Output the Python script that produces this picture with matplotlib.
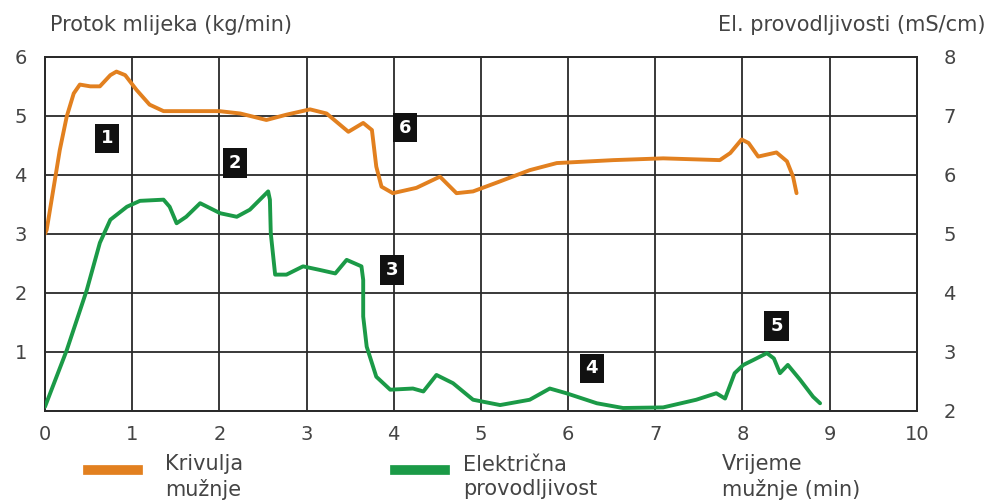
import matplotlib.pyplot as plt

# Krivulja mužnje (kg/min), lijeva os
t_protok = [0.0, 0.02, 0.17, 0.25, 0.33, 0.40, 0.52, 0.63, 0.75, 0.82, 0.92, 1.05, 1.20, 1.36,
            2.00, 2.24, 2.54, 2.77, 3.04, 3.23, 3.48, 3.65, 3.75, 3.80, 3.86, 3.99, 4.26, 4.53,
            4.72, 4.91, 5.22, 5.56, 5.87, 6.52, 7.09, 7.74, 7.86, 7.99, 8.07, 8.18, 8.39, 8.51,
            8.58, 8.62]
protok = [3.0, 3.07, 4.42, 4.99, 5.38, 5.53, 5.50, 5.50, 5.69, 5.75, 5.69, 5.44, 5.19, 5.08,
          5.08, 5.04, 4.93, 5.02, 5.11, 5.04, 4.73, 4.88, 4.76, 4.14, 3.80, 3.69, 3.78, 3.97,
          3.69, 3.72, 3.89, 4.08, 4.20, 4.25, 4.28, 4.25, 4.37, 4.60, 4.54, 4.31, 4.38, 4.23,
          3.97, 3.69]

# Električna provodljivost (mS/cm), desna os
t_el = [0.0, 0.25, 0.48, 0.63, 0.75, 0.94, 1.09, 1.36, 1.43, 1.51, 1.62, 1.78, 2.01, 2.20,
        2.35, 2.56, 2.58, 2.59, 2.64, 2.77, 2.96, 3.15, 3.33, 3.46, 3.63, 3.65, 3.65, 3.69,
        3.80, 3.96, 4.22, 4.34, 4.49, 4.68, 4.91, 5.22, 5.56, 5.79, 5.98, 6.33, 6.63, 7.09,
        7.47, 7.70, 7.80, 7.91, 8.01, 8.12, 8.28, 8.36, 8.43, 8.52, 8.66, 8.81, 8.89]
el = [2.07, 3.03, 4.05, 4.85, 5.24, 5.46, 5.56, 5.58, 5.46, 5.18, 5.29, 5.52, 5.35, 5.29,
      5.41, 5.72, 5.58, 5.01, 4.31, 4.31, 4.45, 4.39, 4.33, 4.56, 4.45, 4.22, 3.60, 3.09,
      2.58, 2.36, 2.38, 2.33, 2.61, 2.47, 2.19, 2.10, 2.19, 2.38, 2.30, 2.13, 2.05, 2.06,
      2.19, 2.30, 2.21, 2.64, 2.78, 2.86, 2.98, 2.89, 2.64, 2.78, 2.53, 2.24, 2.13]

# Oznake faza (broj, x, y na lijevoj osi)
oznake = ["1", "2", "3", "4", "5", "6"]
oznake_x = [0.71, 2.18, 3.98, 6.27, 8.39, 4.13]
oznake_y = [4.62, 4.20, 2.39, 0.72, 1.44, 4.80]

narancasta = "#E2801F"
zelena = "#1B9A47"
siva = "#444444"

fig = plt.figure(figsize=(9.88, 5.03), dpi=100)
ax = fig.add_axes([0.0455, 0.183, 0.8825, 0.704])
ax2 = ax.twinx()

ax.plot(t_protok, protok, color=narancasta, lw=2.8, solid_joinstyle="round",
        solid_capstyle="round", zorder=3)
ax2.plot(t_el, el, color=zelena, lw=2.8, solid_joinstyle="round",
         solid_capstyle="round", zorder=3)

ax.set_xlim(0, 10)
ax.set_ylim(0, 6)
ax2.set_ylim(2, 8)
ax.set_xticks(range(0, 11))
ax.set_yticks(range(0, 7))
ax.set_yticklabels([""] + [str(i) for i in range(1, 7)])
ax2.set_yticks(range(2, 9))

ax.grid(True, color="#2a2a2a", lw=1.3)
for a in (ax, ax2):
    for s in a.spines.values():
        s.set_color("#2a2a2a")
        s.set_linewidth(1.3)
    a.tick_params(length=0, labelsize=14, colors=siva)
ax.tick_params(axis="x", pad=10)
ax.tick_params(axis="y", pad=13)
ax2.tick_params(axis="y", pad=19)

for n, x, y in zip(oznake, oznake_x, oznake_y):
    ax.text(x, y, n, color="white", fontsize=13, fontweight="bold", ha="center", va="center",
            bbox=dict(boxstyle="square,pad=0.32", fc="#111111", ec="none"), zorder=5)

fig.text(50 / 988, 1 - 25 / 503, "Protok mlijeka (kg/min)", fontsize=15, color=siva, va="center")
fig.text(985 / 988, 1 - 25 / 503, "El. provodljivosti (mS/cm)", fontsize=15, color=siva,
         va="center", ha="right")

# legenda ispod grafa
y_leg = 1 - 470 / 503
fig.add_artist(plt.Line2D([88 / 988, 138 / 988], [y_leg, y_leg], color=narancasta, lw=7))
fig.add_artist(plt.Line2D([395 / 988, 445 / 988], [y_leg, y_leg], color=zelena, lw=7))
fig.text(165 / 988, 1 - 477 / 503, "Krivulja\nmužnje", fontsize=15, color=siva, va="center",
         linespacing=1.25)
fig.text(463 / 988, 1 - 477 / 503, "Električna\nprovodljivost", fontsize=15, color=siva,
         va="center", linespacing=1.25)
fig.text(722 / 988, 1 - 477 / 503, "Vrijeme\nmužnje (min)", fontsize=15, color=siva,
         va="center", linespacing=1.25)

fig.savefig("out.png", dpi=100)
